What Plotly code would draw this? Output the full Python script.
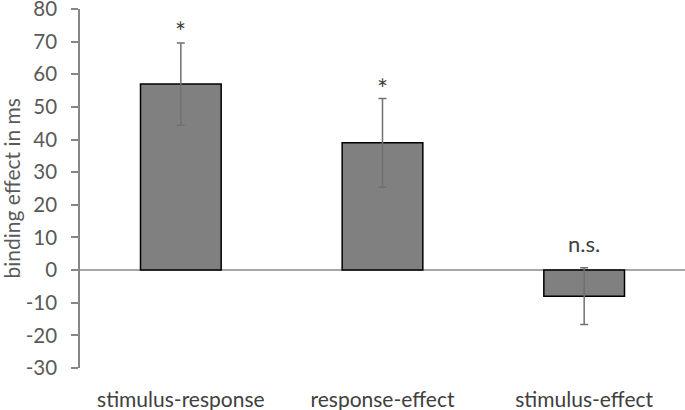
import plotly.graph_objects as go

categories = ["stimulus-response", "response-effect", "stimulus-effect"]
values = [57.0, 39.0, -8.0]
errors = [12.6, 13.6, 8.7]
sig_labels = ["*", "*", "n.s."]
sig_y = [73.0, 55.5, 8.0]
y_ticks = list(range(-30, 81, 10))
y_ticktext = [str(v) for v in y_ticks]

fig = go.Figure()
fig.add_trace(go.Bar(
    x=categories, y=values,
    marker=dict(color="#808080", line=dict(color="#000000", width=1.5)),
    error_y=dict(type="data", array=errors, visible=True, color="#707070", thickness=1.5, width=4),
    width=0.4,
))
for c, t, yv in zip(categories, sig_labels, sig_y):
    fig.add_annotation(x=c, y=yv, text=t, showarrow=False, yanchor="middle",
                       font=dict(family="Lato", size=26 if t == "*" else 22, color="#404040"))

fig.add_annotation(xref="paper", yref="paper", x=-69 / 605, y=0.5, text="binding effect in ms",
                   textangle=-90, showarrow=False, xanchor="center", yanchor="middle",
                   font=dict(family="Lato", size=21, color="#595959"))

fig.update_layout(
    width=685, height=410,
    margin=dict(l=80, r=0, t=9, b=42),
    paper_bgcolor="white", plot_bgcolor="white",
    showlegend=False,
    font=dict(family="Lato", size=21, color="#595959"),
    xaxis=dict(showgrid=False, showline=False, ticks="outside", ticklen=13, tickcolor="rgba(0,0,0,0)",
               zeroline=False, automargin=False, tickfont=dict(size=21, color="#404040")),
    yaxis=dict(range=[-30, 80], tickvals=y_ticks, ticktext=y_ticktext, showgrid=False, showline=True,
               linecolor="#868686", linewidth=1.5, ticks="outside", ticklen=7, tickcolor="#868686",
               tickwidth=1.5, zeroline=True, zerolinecolor="#a6a6a6", zerolinewidth=2,
               automargin=False, ticklabeloverflow="allow", ticklabelstandoff=10,
               tickfont=dict(size=20.5, color="#595959")),
)
fig.write_html("out.html", config={"displayModeBar": False},
               post_script="document.body.style.margin='0';document.body.style.padding='0';")
